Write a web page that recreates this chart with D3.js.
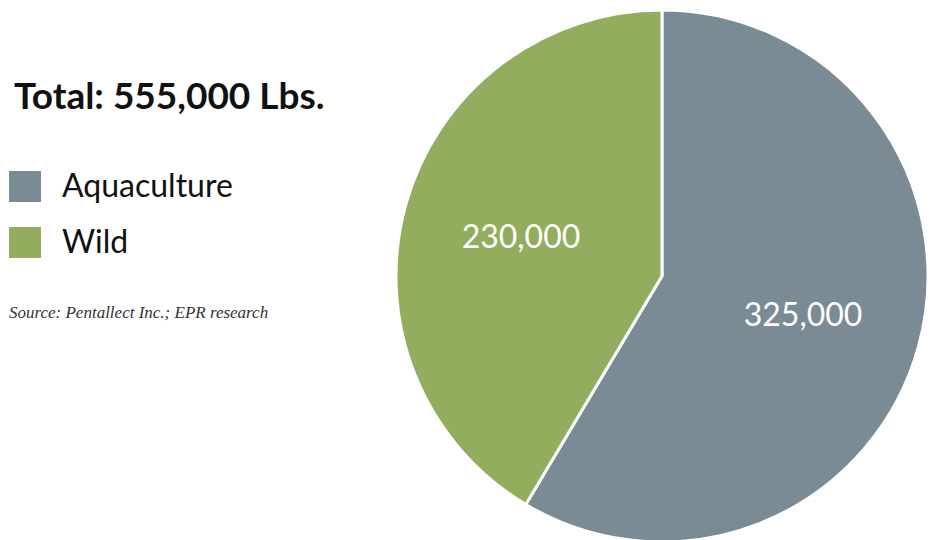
<!DOCTYPE html>
<html>
<head>
<meta charset="utf-8">
<script src="https://cdn.jsdelivr.net/npm/d3@7"></script>
<style>
  html, body { margin: 0; padding: 0; background: #fff; }
  svg { display: block; }
</style>
</head>
<body>
<svg id="chart" width="935" height="540"></svg>
<script>
// Harvest split, in pounds
const categories = ["Aquaculture", "Wild"];
const values = [325000, 230000];
const colors = ["#7a8b95", "#93ad5e"];
const totalLabel = "Total: 555,000 Lbs.";
const sourceNote = "Source: Pentallect Inc.; EPR research";

const svg = d3.select("#chart");
const fmt = d3.format(",");

const cx = 662, cy = 276, radius = 266;

// Pie: aquaculture runs clockwise from 12 o'clock, wild fills the rest
const pie = d3.pie().sort(null).value(d => d.value);
const data = categories.map((c, i) => ({ name: c, value: values[i], color: colors[i] }));
const arcs = pie(data);

const arc = d3.arc().innerRadius(0).outerRadius(radius);
const labelArc = d3.arc().innerRadius(radius * 0.55).outerRadius(radius * 0.55);

const g = svg.append("g").attr("transform", `translate(${cx},${cy})`);

g.selectAll("path.slice")
  .data(arcs)
  .join("path")
  .attr("class", "slice")
  .attr("d", arc)
  .attr("fill", d => d.data.color)
  .attr("stroke", "#fff")
  .attr("stroke-width", 3)
  .attr("stroke-linejoin", "round");

g.selectAll("text.val")
  .data(arcs)
  .join("text")
  .attr("class", "val")
  .attr("transform", d => `translate(${labelArc.centroid(d)})`)
  .attr("text-anchor", "middle")
  .attr("dy", "0.35em")
  .attr("fill", "#fff")
  .style("font-family", "Lato, sans-serif")
  .style("font-weight", 400)
  .style("font-size", "32px")
  .text(d => fmt(d.data.value));

// Title
svg.append("text")
  .attr("x", 14)
  .attr("y", 109)
  .style("font-family", "Lato, sans-serif")
  .style("font-weight", 700)
  .style("font-size", "37px")
  .attr("fill", "#111")
  .text(totalLabel);

// Legend
const legend = svg.append("g").attr("transform", "translate(9,171)");
const item = legend.selectAll("g")
  .data(data)
  .join("g")
  .attr("transform", (d, i) => `translate(0,${i * 56})`);

item.append("rect")
  .attr("width", 32)
  .attr("height", 31)
  .attr("fill", d => d.color);

item.append("text")
  .attr("x", 53)
  .attr("y", 26)
  .style("font-family", "Lato, sans-serif")
  .style("font-size", "32px")
  .attr("fill", "#111")
  .text(d => d.name);

// Source note
svg.append("text")
  .attr("x", 9)
  .attr("y", 318)
  .style("font-family", "'Liberation Serif', 'DejaVu Serif', serif")
  .style("font-style", "italic")
  .style("font-size", "17px")
  .attr("fill", "#333")
  .text(sourceNote);
</script>
</body>
</html>
